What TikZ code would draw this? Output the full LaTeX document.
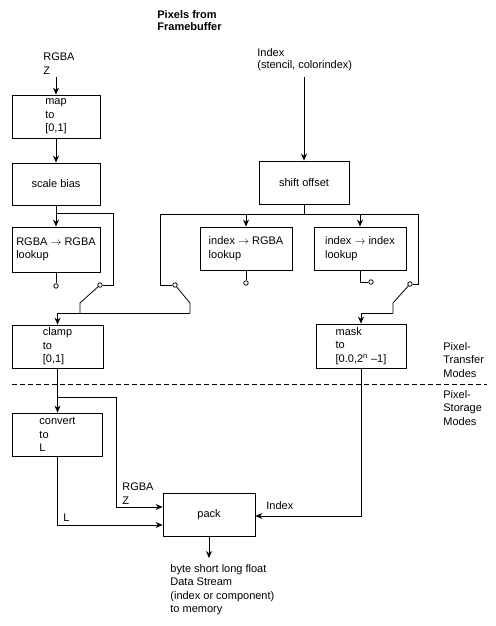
\documentclass[tikz,border=0pt]{standalone}
\usepackage{fontspec}
\setmainfont{Liberation Sans}
\usetikzlibrary{arrows.meta}

\begin{document}
\begin{tikzpicture}[x=1pt, y=-1pt, line width=0.8pt, >={Stealth[length=7pt,width=6pt]},
  every node/.style={font=\fontsize{11}{13.5}\selectfont},
  blk/.style={draw, rectangle, align=left, inner sep=0pt, minimum width=88pt, minimum height=43pt},
  lbl/.style={align=left, inner sep=0pt, anchor=west},
  sw/.style={circle, draw, fill=white, inner sep=0pt, minimum size=4.5pt}]
\useasboundingbox (0,0) rectangle (495,626);

\node[lbl, font=\bfseries\fontsize{11}{12}\selectfont] (title) at (157,21) {Pixels from\\Framebuffer};
\node[lbl] (rgbaSrc) at (43,63.5) {RGBA\\Z};
\node[lbl, font=\fontsize{11}{11.5}\selectfont] (idxSrc) at (257,59.5) {Index\\(stencil, colorindex)};

\node[blk] (map) at (56,116.5) {map\\to\\{}[0,1]};
\node[blk, minimum height=42pt] (scale) at (56,184) {scale bias};
\node[blk, minimum height=45pt] (rgbalut) at (56,249.5) {RGBA $\rightarrow$ RGBA\\lookup};
\node[blk, minimum width=90pt] (shift) at (304,182.5) {shift offset};
\node[blk, minimum width=92pt] (idxrgba) at (246,248.5) {index $\rightarrow$ RGBA\\lookup};
\node[blk, minimum width=92pt] (idxidx) at (360,248.5) {index $\rightarrow$ index\\lookup};
\node[blk, minimum width=91pt] (clamp) at (57.5,346.5) {clamp\\to\\{}[0,1]};
\node[blk, minimum width=90pt, minimum height=44pt] (mask) at (361,346) {mask\\to\\{}[0.0,2\textsuperscript{n} --1]};
\node[blk, minimum width=90pt] (convert) at (57.5,434.5) {convert\\to\\L};
\node[blk, minimum width=92pt] (pack) at (209,514.5) {pack};

\node[sw] (sw1) at (100,285) {};
\node[sw] (sw2) at (56,286) {};
\node[sw] (sw3) at (175,285) {};
\node[sw] (sw4) at (246,283) {};
\node[sw] (sw5) at (371,282) {};
\node[sw] (sw6) at (410,284) {};

\coordinate (rgbaTop) at (56,77);
\coordinate (idxTop) at (304,77);
\coordinate (byRGBA) at (56,213);
\coordinate (byRGBAr) at (113,285);
\coordinate (idxBus) at (304,214);
\coordinate (idxBusL) at (160,214);
\coordinate (idxBusR) at (418,214);
\coordinate (armL) at (80,303);
\coordinate (armLb) at (80,313);
\coordinate (armM) at (190,303);
\coordinate (armMb) at (190,313);
\coordinate (armR) at (393,303);
\coordinate (armRb) at (393,313);
\coordinate (dashL) at (12,384);
\coordinate (dashR) at (487,384);
\coordinate (toConv) at (57.5,397);
\coordinate (rzCorner) at (116,507);
\coordinate (lCorner) at (57.5,525);
\coordinate (idxCorner) at (361,516);
\coordinate (outTip) at (209,558);

\draw[->] (rgbaTop) -- (map);
\draw[->] (map) -- (scale);
\draw[->] (scale) -- (rgbalut);
\draw (byRGBA) -| (byRGBAr) -- (sw1);
\draw (rgbalut) -- (sw2);
\draw (sw1) -- (armL) -- (armLb);
\draw (sw3) -- (armM) -- (armMb);
\draw[->] (armMb) -| (clamp);

\draw[->] (idxTop) -- (shift);
\draw (shift) -- (idxBus);
\draw (sw3) -| (idxBusL) -- (idxBusR) |- (sw6);
\draw[->] (idxBus -| idxrgba) -- (idxrgba);
\draw[->] (idxBus -| idxidx) -- (idxidx);
\draw (idxrgba) -- (sw4);
\draw (idxidx) |- (sw5);
\draw (sw6) -- (armR) -- (armRb);
\draw[->] (armRb) -| (mask);

\draw[dashed, dash pattern=on 5pt off 3pt] (dashL) -- (dashR);

\draw[->] (clamp) -- (convert);
\draw[->] (toConv) -| (rzCorner) -- (rzCorner -| pack.west);
\draw[->] (convert) -- (lCorner) -- (lCorner -| pack.west);
\draw[->] (mask) -- (idxCorner) -- (idxCorner -| pack.east);
\draw[->] (pack) -- (outTip);

\node[lbl] (rzLbl) at (122,493.5) {RGBA\\Z};
\node[lbl] (lLbl) at (63,518) {L};
\node[lbl] (idxLbl) at (266,506) {Index};
\node[lbl] (outLbl) at (170,589.5) {byte short long float\\Data Stream\\(index or component)\\to memory};
\node[lbl] (xferLbl) at (443,360) {Pixel-\\Transfer\\Modes};
\node[lbl] (storLbl) at (443,408) {Pixel-\\Storage\\Modes};
\end{tikzpicture}
\end{document}
